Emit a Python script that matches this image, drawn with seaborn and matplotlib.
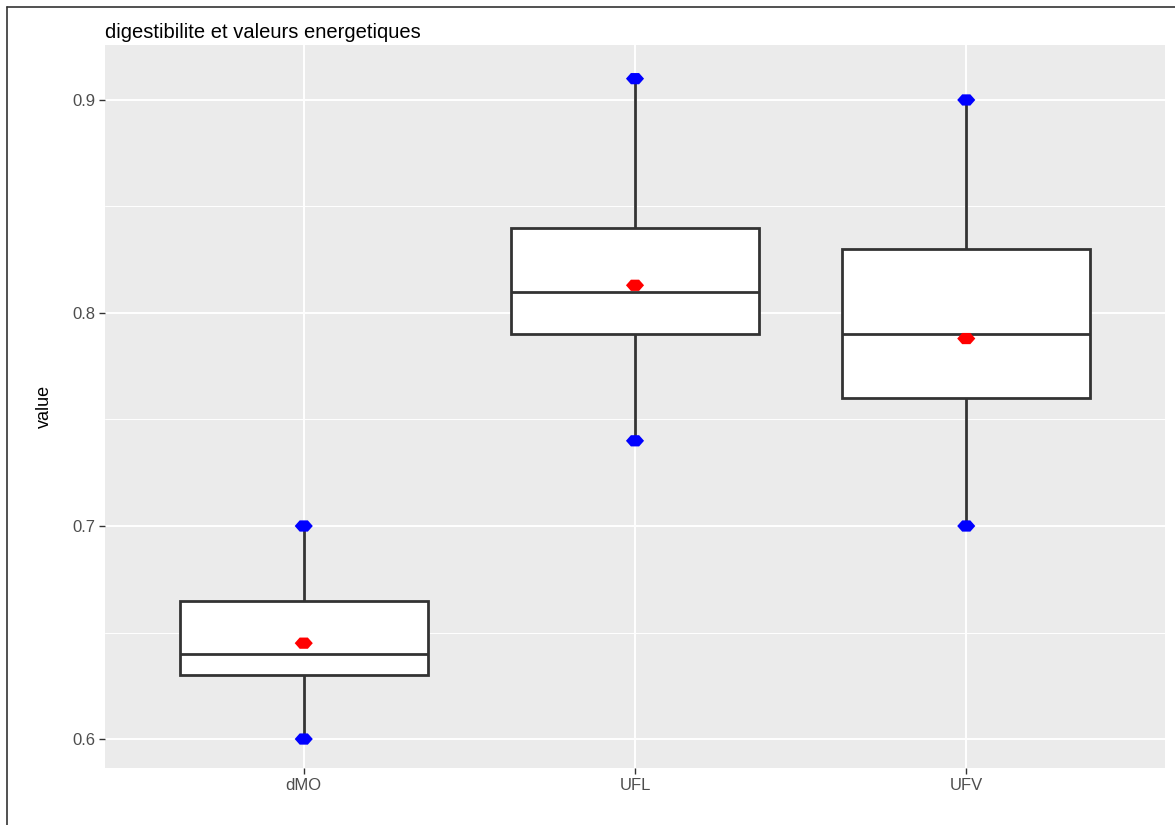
import matplotlib.pyplot as plt
import matplotlib.lines as mlines
import numpy as np
import pandas as pd
import seaborn as sns

# Values
categories = ['dMO', 'UFL', 'UFV']
min_vals = [0.60, 0.74, 0.70]
q1_vals = [0.63, 0.79, 0.76]
median_vals = [0.64, 0.81, 0.79]
q3_vals = [0.665, 0.84, 0.83]
max_vals = [0.70, 0.91, 0.90]
mean_vals = [0.645, 0.813, 0.788]

# Five-number summary per group -> long table for sns.boxplot
rows = []
for cat, a, b, c, d, e in zip(categories, min_vals, q1_vals, median_vals, q3_vals, max_vals):
    for v in (a, b, c, d, e):
        rows.append({'variable': cat, 'value': v})
df = pd.DataFrame(rows)

sns.set_theme(style='darkgrid', rc={
    'axes.facecolor': '#EBEBEB',
    'grid.color': 'white',
    'axes.edgecolor': 'none',
})
plt.rcParams['font.family'] = ['Liberation Sans', 'DejaVu Sans']

fig = plt.figure(figsize=(11.75, 8.25), dpi=100)
ax = fig.add_axes([105 / 1175, 1 - 768 / 825, 1060 / 1175, 723 / 825])

sns.boxplot(data=df, x='variable', y='value', order=categories, whis=np.inf,
            width=0.75, color='white', linecolor='#333333', linewidth=2,
            showcaps=False, fliersize=0, saturation=1, ax=ax, zorder=3)

# squashed diamond marker like the ggplot points
diamond = [(-1, 0), (-0.45, 0.62), (0.45, 0.62), (1, 0), (0.45, -0.62), (-0.45, -0.62), (-1, 0)]
ext = pd.DataFrame({'variable': categories * 2, 'value': min_vals + max_vals})
sns.scatterplot(data=ext, x='variable', y='value', color='blue', marker=diamond,
                s=170, edgecolor='none', ax=ax, zorder=5)
means = pd.DataFrame({'variable': categories, 'value': mean_vals})
sns.scatterplot(data=means, x='variable', y='value', color='red', marker=diamond,
                s=170, edgecolor='none', ax=ax, zorder=5)

ax.set_xlim(-0.6, 2.6)
ax.set_ylim(0.5864, 0.9258)
ax.set_yticks([0.6, 0.7, 0.8, 0.9])
ax.set_yticklabels(['0.6', '0.7', '0.8', '0.9'])
ax.set_yticks([0.65, 0.75, 0.85], minor=True)
ax.grid(which='major', color='white', linewidth=1.4)
ax.grid(which='minor', axis='y', color='white', linewidth=0.7)
ax.tick_params(axis='both', which='major', length=4, width=1, color='#333333',
               labelcolor='#4D4D4D', labelsize=12, pad=3, left=True, bottom=True)
ax.tick_params(axis='y', which='minor', length=0)
ax.set_xlabel('')
ax.set_ylabel('value', fontsize=13, color='black', labelpad=14)
ax.set_title('digestibilite et valeurs energetiques', loc='left', fontsize=14.5,
             color='black', pad=5)

# border of the original screenshot
fig.add_artist(mlines.Line2D([7 / 1175, 7 / 1175], [0, 1 - 7 / 825],
                             transform=fig.transFigure, color='#333333', linewidth=1.2))
fig.add_artist(mlines.Line2D([7 / 1175, 1], [1 - 7 / 825, 1 - 7 / 825],
                             transform=fig.transFigure, color='#333333', linewidth=1.2))

fig.savefig('out.png', dpi=100, facecolor='white')
